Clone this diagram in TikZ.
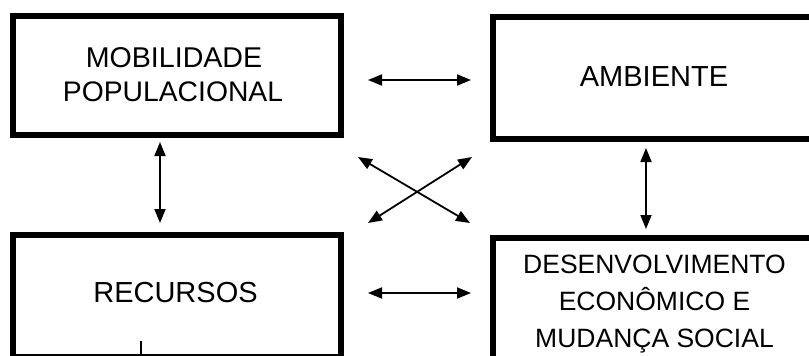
\documentclass[tikz,border=0pt]{standalone}
\usepackage{fontspec}
\setmainfont{Liberation Sans}
\usetikzlibrary{arrows.meta}
\begin{document}
\begin{tikzpicture}[x=1pt,y=-1pt,
 box/.style={draw=black,line width=6pt,inner sep=0pt},
 tip/.tip={Triangle[length=14pt,width=11pt]},
 arr/.style={line width=1.8pt,tip-tip},
 lbl/.style={anchor=base,inner sep=0pt,font=\fontsize{29}{34}\selectfont},
 lbls/.style={anchor=base,inner sep=0pt,font=\fontsize{26.5}{37}\selectfont}]
\useasboundingbox (0,0) rectangle (809,356);
\begin{scope}
\clip (0,0) rectangle (809,356);
\node[box,minimum width=327.5pt,minimum height=119.5pt] (mob) at (176.75,75.25) {};
\node[box,minimum width=324.5pt,minimum height=121.5pt] (amb) at (654.75,77.75) {};
\node[box,minimum width=327.5pt,minimum height=122.5pt] (rec) at (176.75,295.75) {};
\node[box,minimum width=324.5pt,minimum height=124.5pt] (des) at (654.75,299.75) {};

\node[lbl,font=\fontsize{28.6}{34}\selectfont] (t1) at (174,67) {MOBILIDADE};
\node[lbl,font=\fontsize{28.3}{34}\selectfont] (t2) at (173,101) {POPULACIONAL};
\node[lbl] (t3) at (654,86) {AMBIENTE};
\node[lbl] (t4) at (175.5,302) {RECURSOS};
\node[lbls] (t5) at (654.5,273) {DESENVOLVIMENTO};
\node[lbls] (t6) at (654.5,310) {ECONÔMICO E};
\node[lbls] (t7) at (654.5,347) {MUDANÇA SOCIAL};

\coordinate (h1a) at (368,80);  \coordinate (h1b) at (471,80);
\coordinate (h2a) at (368,293); \coordinate (h2b) at (471,293);
\coordinate (v1a) at (160,142); \coordinate (v1b) at (160,223);
\coordinate (v2a) at (646,148); \coordinate (v2b) at (646,229);
\coordinate (d1a) at (358,157); \coordinate (d1b) at (470,223);
\coordinate (d2a) at (368,223); \coordinate (d2b) at (472,157);
\coordinate (tka) at (141,341); \coordinate (tkb) at (141,362);

\draw[arr] (h1a) -- (h1b);
\draw[arr] (h2a) -- (h2b);
\draw[arr] (v1a) -- (v1b);
\draw[arr] (v2a) -- (v2b);
\draw[arr] (d1a) -- (d1b);
\draw[arr] (d2a) -- (d2b);
\draw[line width=1.5pt] (tka) -- (tkb);
\end{scope}
\end{tikzpicture}
\end{document}
